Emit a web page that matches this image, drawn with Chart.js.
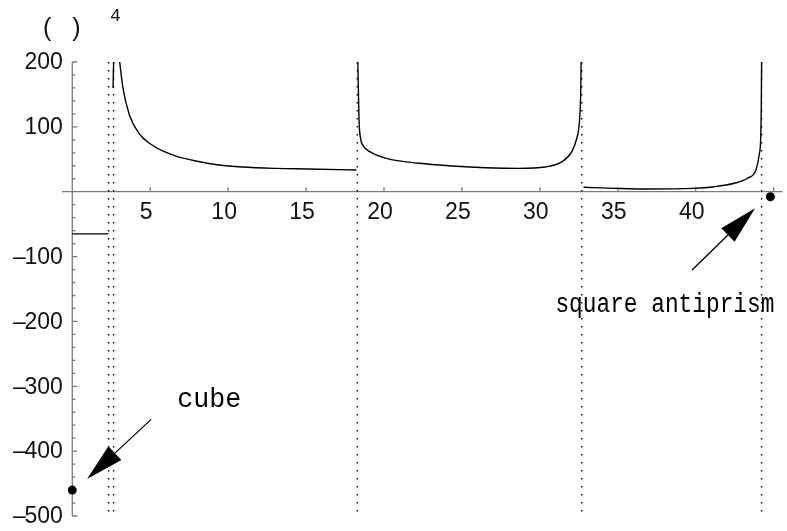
<!DOCTYPE html>
<html>
<head>
<meta charset="utf-8">
<script src="https://cdn.jsdelivr.net/npm/chart.js@4.4.1/dist/chart.umd.min.js"></script>
<style>
  html, body { margin: 0; padding: 0; background: #fff; }
  #plot { display: block; }
</style>
</head>
<body>
<canvas id="plot" width="787" height="531"></canvas>
<script>
// branches of the curve, split at the poles
const branch1X = [0, 2.33];
const branch1Y = [-65, -65];
const branch2X = [2.615, 2.635, 2.655];
const branch2Y = [160, 182, 200];
const branch3X = [3.04, 3.25, 3.67, 4.31, 4.95, 5.8, 6.65, 7.93, 9.41, 10.9, 13.03, 15.15, 18.23];
const branch3Y = [200, 160, 118, 89, 74.7, 62.8, 55, 47.4, 41.2, 38.1, 36, 35, 33.5];
const branch4X = [18.32, 18.4, 18.5, 18.66, 19.09, 20.15, 22.28, 24.4, 26.53, 28.65, 30.35, 31.42, 32.05, 32.37, 32.54, 32.63, 32.65];
const branch4Y = [200, 110, 82, 71, 61.7, 51.5, 43.8, 39.7, 37, 36, 38.1, 46.3, 61.7, 82.4, 108, 160, 200];
const branch5X = [32.8, 34.82, 36.95, 39.81, 41.2, 42.47, 43.32, 43.86, 44.07, 44.17, 44.21, 44.23];
const branch5Y = [6.8, 5.2, 4.2, 5.2, 7.7, 13, 20.7, 33.5, 56.6, 82.4, 133.8, 200];

// asymptotes
const poles = [2.33, 2.65, 18.29, 32.69, 44.23];

// marked configurations
const markerX = [0, 44.79];
const markerY = [-460, -7.7];
const markerNames = ['cube', 'square antiprism'];
// arrow tail / tip and label anchor, in data units
const arrowTail = [[5.06, -351], [39.77, -120.8]];
const arrowTip = [[0.95, -443], [43.81, -25.6]];
const labelAt = [[6.73, -332], [31.0, -185]];
const labelWidth = [64, 219];

const xTicks = [5, 10, 15, 20, 25, 30, 35, 40, 45];
const xTickLabels = ['5', '10', '15', '20', '25', '30', '35', '40', ''];
const yTicks = [200, 100, -100, -200, -300, -400, -500];

const xMin = -0.66, xMax = 45.57, yMin = -500, yMax = 200;

const zip = (xs, ys) => xs.map((x, i) => ({ x: x, y: ys[i] }));

const curve = (xs, ys) => ({
  data: zip(xs, ys),
  showLine: true,
  borderColor: '#000',
  borderWidth: 1.4,
  pointRadius: 0,
  cubicInterpolationMode: 'monotone',
});

const poleSets = poles.map((p) => ({
  data: [{ x: p, y: yMax }, { x: p, y: yMin }],
  showLine: true,
  borderColor: '#000',
  borderWidth: 1.4,
  borderDash: [1.4, 6.6],
  pointRadius: 0,
}));

const axesPlugin = {
  id: 'mathAxes',
  beforeDatasetsDraw(chart) {
    const { ctx, chartArea, scales } = chart;
    const xs = scales.x, ys = scales.y;
    const x0 = xs.getPixelForValue(0);
    const y0 = ys.getPixelForValue(0);
    ctx.save();
    ctx.strokeStyle = '#7a7a7a';
    ctx.lineWidth = 1.3;
    ctx.beginPath();
    ctx.moveTo(chartArea.left, y0);
    ctx.lineTo(chartArea.right, y0);
    ctx.moveTo(x0, chartArea.top);
    ctx.lineTo(x0, chartArea.bottom);
    // y ticks, minor every 20
    for (let v = yMin; v <= yMax; v += 20) {
      const py = ys.getPixelForValue(v);
      const len = v % 100 === 0 ? 5 : 3;
      ctx.moveTo(x0, py);
      ctx.lineTo(x0 + len, py);
    }
    xTicks.forEach((v) => {
      const px = xs.getPixelForValue(v);
      ctx.moveTo(px, y0);
      ctx.lineTo(px, y0 - 4.5);
    });
    ctx.stroke();

    ctx.fillStyle = '#111';
    ctx.font = '23px "Liberation Sans", Arial, sans-serif';
    ctx.textBaseline = 'middle';
    ctx.textAlign = 'center';
    xTicks.forEach((v, i) => {
      ctx.fillText(xTickLabels[i], xs.getPixelForValue(v) - 4, y0 + 21);
    });
    ctx.textAlign = 'right';
    yTicks.forEach((v) => {
      const py = ys.getPixelForValue(v) + 1;
      const digits = String(Math.abs(v));
      ctx.fillText(digits, x0 - 9.5, py);
      if (v < 0) {
        const w = ctx.measureText(digits).width;
        ctx.fillText('\u2013', x0 - 9.5 - w + 1.5, py);
      }
    });

    // axis label
    ctx.textAlign = 'left';
    ctx.font = '25px "Liberation Sans", Arial, sans-serif';
    ctx.fillText('(   )', 43, 29);
    ctx.font = '18px "Liberation Mono", monospace';
    ctx.fillText('4', 110, 16);
    ctx.restore();
  },
  afterDatasetsDraw(chart) {
    const { ctx, scales } = chart;
    const xs = scales.x, ys = scales.y;
    const px = (p) => [xs.getPixelForValue(p[0]), ys.getPixelForValue(p[1])];
    ctx.save();
    ctx.fillStyle = '#000';
    ctx.strokeStyle = '#000';
    markerNames.forEach((name, i) => {
      const [tx, ty] = px(arrowTail[i]);
      const [hx, hy] = px(arrowTip[i]);
      const ang = Math.atan2(hy - ty, hx - tx);
      const headLen = 38, half = 9.5;
      const bx = hx - headLen * Math.cos(ang), by = hy - headLen * Math.sin(ang);
      ctx.lineWidth = 1.3;
      ctx.beginPath();
      ctx.moveTo(tx, ty);
      ctx.lineTo(bx, by);
      ctx.stroke();
      ctx.beginPath();
      ctx.moveTo(hx, hy);
      ctx.lineTo(bx + half * Math.sin(ang), by - half * Math.cos(ang));
      ctx.lineTo(bx - half * Math.sin(ang), by + half * Math.cos(ang));
      ctx.closePath();
      ctx.fill();

      // label, squeezed to the printed width
      const [lx, ly] = px(labelAt[i]);
      ctx.font = '27px "Liberation Mono", monospace';
      ctx.textBaseline = 'alphabetic';
      ctx.textAlign = 'left';
      const w = ctx.measureText(name).width;
      ctx.save();
      ctx.translate(lx, ly);
      ctx.scale(labelWidth[i] / w, 1);
      ctx.fillText(name, 0, 0);
      ctx.restore();
    });
    ctx.restore();
  },
};

new Chart(document.getElementById('plot'), {
  type: 'scatter',
  data: {
    datasets: [
      ...poleSets,
      curve(branch1X, branch1Y),
      curve(branch2X, branch2Y),
      curve(branch3X, branch3Y),
      curve(branch4X, branch4Y),
      curve(branch5X, branch5Y),
      {
        data: zip(markerX, markerY),
        pointRadius: 4.5,
        pointBackgroundColor: '#000',
        pointBorderWidth: 0,
        clip: false,
      },
    ],
  },
  options: {
    responsive: false,
    animation: false,
    events: [],
    layout: { padding: { left: 62, right: 0, top: 62, bottom: 15 } },
    plugins: { legend: { display: false }, tooltip: { enabled: false } },
    scales: {
      x: { type: 'linear', display: false, min: xMin, max: xMax },
      y: { type: 'linear', display: false, min: yMin, max: yMax },
    },
  },
  plugins: [axesPlugin],
});
</script>
</body>
</html>
